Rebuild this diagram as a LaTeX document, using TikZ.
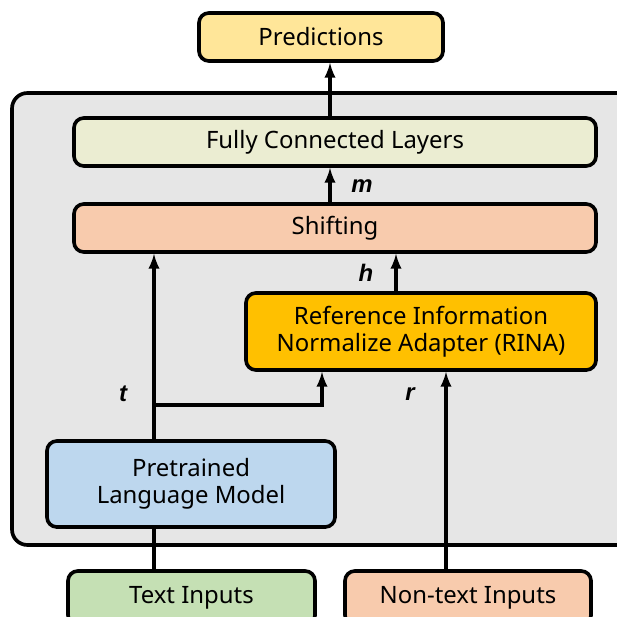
\documentclass[tikz,border=0pt]{standalone}
\usepackage{fontspec}
\setmainfont{Noto Sans}
\newfontfamily\vecfont{Liberation Sans}
\usepackage{tikz}
\usetikzlibrary{positioning}

\definecolor{predfill}{HTML}{FFE699}
\definecolor{fcfill}{HTML}{EBEDD2}
\definecolor{shiftfill}{HTML}{F8CBAD}
\definecolor{rinafill}{HTML}{FFC000}
\definecolor{plmfill}{HTML}{BDD7EE}
\definecolor{txtfill}{HTML}{C5E0B4}
\definecolor{backfill}{HTML}{E6E6E6}

\begin{document}
\begin{tikzpicture}[x=0.025cm,y=-0.025cm,>=latex,line width=2.6pt]
  \tikzstyle{box}=[draw=black,rounded corners=7pt,align=center,font=\fontsize{17}{19.5}\selectfont,inner sep=0pt]
  \tikzstyle{vec}=[font=\vecfont\fontsize{17}{19}\selectfont\bfseries\itshape]

  \useasboundingbox (0,0) rectangle (617,617);
  \clip (0,0) rectangle (617,617);

  % background block
  \draw[fill=backfill,rounded corners=11pt] (12,93) rectangle (640,545);

  \node[box,fill=predfill,minimum width=244*0.025cm,minimum height=48*0.025cm] (pred) at (321,37) {Predictions};
  \node[box,fill=fcfill,minimum width=522*0.025cm,minimum height=48*0.025cm] (fc) at (335,142) {Fully Connected Layers};
  \node[box,fill=shiftfill,minimum width=522*0.025cm,minimum height=48*0.025cm] (shift) at (335,228) {Shifting};
  \node[box,fill=rinafill,minimum width=350*0.025cm,minimum height=77*0.025cm] (rina) at (421,331.5) {Reference Information\\Normalize Adapter (RINA)};
  \node[box,fill=plmfill,minimum width=288*0.025cm,minimum height=86*0.025cm] (plm) at (191,484) {Pretrained\\Language Model};
  \node[box,fill=txtfill,minimum width=247*0.025cm,minimum height=54*0.025cm] (txt) at (191.5,598) {Text Inputs};
  \node[box,fill=shiftfill,minimum width=246*0.025cm,minimum height=54*0.025cm] (ntx) at (468,598) {Non-text Inputs};

  \coordinate (split) at (154,405);

  \draw[->] (fc.north -| 330,0) -- (pred.south -| 330,0);
  \draw[->] (shift.north -| 330,0) -- (fc.south -| 330,0);
  \node[vec] (mlab) at (362,186) {m};
  \draw[->] (rina.north -| 396,0) -- (shift.south -| 396,0);
  \node[vec] (hlab) at (366,273) {h};
  \draw (txt.north -| split) -- (plm.south -| split);
  \draw[->] (plm.north -| split) -- (shift.south -| split);
  \draw[->] (split) -- (322,405) -- (rina.south -| 322,0);
  \node[vec] (tlab) at (123,394) {t};
  \draw[->] (ntx.north -| 446,0) -- (rina.south -| 446,0);
  \node[vec] (rlab) at (410,394) {r};
\end{tikzpicture}
\end{document}
